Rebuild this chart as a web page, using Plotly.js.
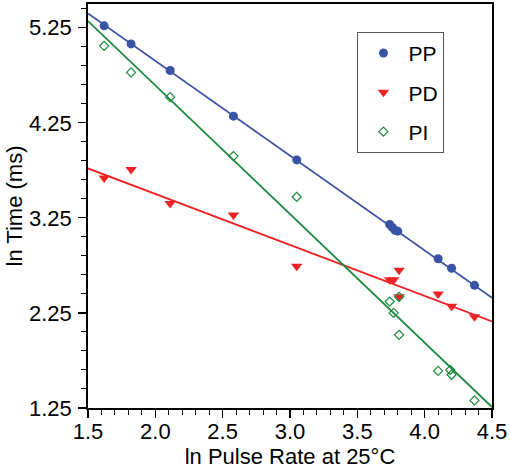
<!DOCTYPE html>
<html><head><meta charset="utf-8">
<script src="https://cdn.plot.ly/plotly-3.0.1.min.js"></script>
<style>html,body{margin:0;padding:0;background:#fff;}#chart{width:510px;height:469px;}</style>
</head><body><div id="chart"></div>
<script>
// Data
const ppX = [1.62, 1.82, 2.11, 2.58, 3.05, 3.74, 3.76, 3.78, 3.80, 4.10, 4.20, 4.37];
const ppY = [5.27, 5.08, 4.80, 4.32, 3.86, 3.18, 3.15, 3.12, 3.11, 2.82, 2.72, 2.54];
const pdX = [1.62, 1.82, 2.11, 2.58, 3.05, 3.74, 3.77, 3.81, 3.81, 4.10, 4.20, 4.37];
const pdY = [3.67, 3.76, 3.40, 3.28, 2.74, 2.60, 2.60, 2.70, 2.42, 2.45, 2.32, 2.21];
const piX = [1.62, 1.82, 2.11, 2.58, 3.05, 3.74, 3.77, 3.81, 3.81, 4.10, 4.19, 4.20, 4.37];
const piY = [5.06, 4.78, 4.52, 3.90, 3.47, 2.37, 2.25, 2.42, 2.02, 1.64, 1.65, 1.60, 1.33];
// fitted lines (end points)
const fitX = [1.5, 4.5];
const ppFit = [5.40, 2.41];
const pdFit = [3.77, 2.16];
const piFit = [5.32, 1.26];
const yTickVals = [1.25, 2.25, 3.25, 4.25, 5.25];
const xTickVals = [1.5, 2.0, 2.5, 3.0, 3.5, 4.0, 4.5];

const cBlue = '#3a53a4', cRed = '#ed2224', cGreen = '#1b8a3c';

const traces = [
  {x: fitX, y: ppFit, mode: 'lines', line: {color: cBlue, width: 1.8}, showlegend: false, hoverinfo: 'skip'},
  {x: fitX, y: pdFit, mode: 'lines', line: {color: cRed, width: 1.8}, showlegend: false, hoverinfo: 'skip'},
  {x: fitX, y: piFit, mode: 'lines', line: {color: cGreen, width: 1.8}, showlegend: false, hoverinfo: 'skip'},
  {x: ppX, y: ppY, name: 'PP', legendgroup: 'a', mode: 'markers', marker: {symbol: 'circle', size: 9, color: cBlue}},
  {x: pdX, y: pdY, name: 'PD', legendgroup: 'b', mode: 'markers', marker: {symbol: 'triangle-down', size: 10, color: cRed}},
  {x: piX, y: piY, name: 'PI', legendgroup: 'c', mode: 'markers', marker: {symbol: 'diamond-open', size: 7, color: cGreen, line: {width: 1.2, color: cGreen}}}
];

const axFont = {family: 'Liberation Sans, Arial, sans-serif', size: 22, color: '#000'};
const layout = {
  width: 510, height: 469,
  margin: {l: 88, r: 18, t: 4, b: 61},
  paper_bgcolor: '#fff', plot_bgcolor: '#fff',
  font: axFont,
  showlegend: true,
  legend: {
    x: 0.667, y: 0.931, xanchor: 'left', yanchor: 'top',
    bordercolor: '#555', borderwidth: 1, bgcolor: '#fff',
    font: {family: 'Liberation Sans, Arial, sans-serif', size: 21, color: '#000'},
    tracegroupgap: 9, itemwidth: 40
  },
  xaxis: {
    range: [1.5, 4.5], tickvals: xTickVals, ticktext: xTickVals.map(v => v.toFixed(1)),
    ticks: 'outside', ticklen: 8, tickwidth: 1.2, tickcolor: '#000',
    showline: true, linecolor: '#000', linewidth: 1.8, mirror: true,
    showgrid: false, zeroline: false, tickfont: axFont, ticklabelstandoff: -5,
    minor: {dtick: 0.1, tick0: 1.5, ticks: 'outside', ticklen: 5, tickcolor: '#000', tickwidth: 1, showgrid: false},
    title: {text: 'ln Pulse Rate at 25°C', font: axFont, standoff: 8}
  },
  yaxis: {
    range: [1.25, 5.5], tickvals: yTickVals, ticktext: yTickVals.map(v => v.toFixed(2)),
    ticks: 'outside', ticklen: 8, tickwidth: 1.2, tickcolor: '#000',
    showline: true, linecolor: '#000', linewidth: 1.8, mirror: true,
    showgrid: false, zeroline: false, tickfont: axFont, ticklabelstandoff: 2,
    minor: {dtick: 0.2, tick0: 1.25, ticks: 'outside', ticklen: 5, tickcolor: '#000', tickwidth: 1, showgrid: false},
    title: {text: 'ln Time (ms)', font: axFont, standoff: 0}
  }
};
Plotly.newPlot('chart', traces, layout, {displayModeBar: false, staticPlot: true});
</script></body></html>
